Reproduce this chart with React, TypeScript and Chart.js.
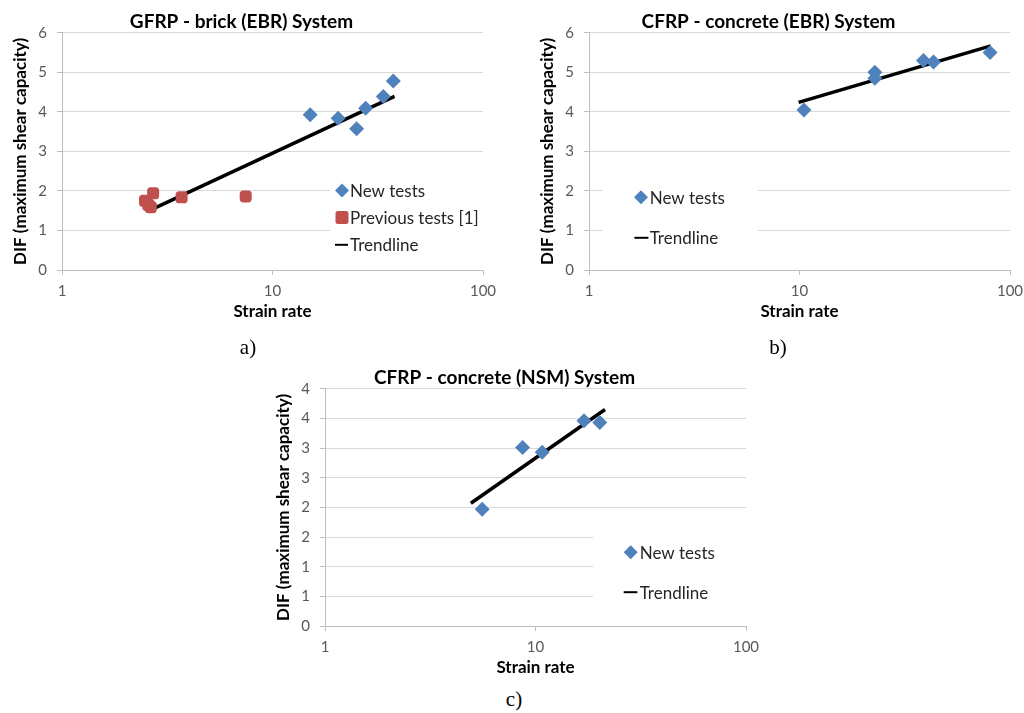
import React, { useEffect, useRef } from "react";
import { Chart, registerables } from "chart.js";

Chart.register(...registerables);

// ---------- data ----------
const xTickValues = [1, 10, 100];

const aNewX = [15.1, 20.5, 25.1, 27.7, 33.6, 37.5];
const aNewY = [3.93, 3.84, 3.57, 4.09, 4.39, 4.78];
const aPrevX = [2.48, 2.57, 2.64, 2.71, 3.7, 7.46];
const aPrevY = [1.75, 1.65, 1.59, 1.94, 1.84, 1.86];
const aTrendX = [2.64, 38];
const aTrendY = [1.52, 4.39];

const bNewX = [10.5, 22.8, 22.8, 38.8, 43.3, 80.4];
const bNewY = [4.05, 5.0, 4.85, 5.3, 5.26, 5.5];
const bTrendX = [9.9, 81];
const bTrendY = [4.24, 5.67];

const cNewX = [5.58, 8.68, 10.76, 17.0, 20.2];
const cNewY = [1.97, 3.01, 2.93, 3.46, 3.43];
const cTrendX = [4.93, 21.4];
const cTrendY = [2.07, 3.65];

const titles = [
  "GFRP - brick (EBR) System",
  "CFRP - concrete (EBR) System",
  "CFRP - concrete (NSM) System",
];
const seriesLabels = ["New tests", "Previous tests [1]", "Trendline"];
const xTitle = "Strain rate";
const yTitle = "DIF (maximum shear capacity)";
const captions = ["a)", "b)", "c)"];

const BLUE = "#4F81BD";
const RED = "#C0504D";
const FONT = "Lato, 'Open Sans', sans-serif";

const zip = (xs: number[], ys: number[]) => xs.map((x, i) => ({ x, y: ys[i] }));

const legendPlugin = {
  id: "insideLegend",
  afterDatasetsDraw(chart: any, _args: any, opts: any) {
    if (!opts || !opts.rows) return;
    const { ctx, chartArea } = chart;
    const L = chartArea.left;
    const T = chartArea.top;
    ctx.save();
    ctx.fillStyle = "#ffffff";
    ctx.fillRect(L + opts.box[0], T + opts.box[1], opts.box[2] - opts.box[0], opts.box[3] - opts.box[1]);
    ctx.font = "17px " + FONT;
    ctx.textBaseline = "middle";
    ctx.textAlign = "left";
    chart.data.datasets.forEach((ds: any, i: number) => {
      const y = T + opts.rows[i];
      if (ds.showLine) {
        ctx.strokeStyle = "#000";
        ctx.lineWidth = 2;
        ctx.beginPath();
        ctx.moveTo(L + opts.dash[0], y);
        ctx.lineTo(L + opts.dash[1], y);
        ctx.stroke();
      } else {
        ctx.fillStyle = ds.backgroundColor;
        const mx = L + opts.markerX;
        if (ds.pointStyle === "rectRot") {
          ctx.beginPath();
          ctx.moveTo(mx, y - 7);
          ctx.lineTo(mx + 7, y);
          ctx.lineTo(mx, y + 7);
          ctx.lineTo(mx - 7, y);
          ctx.closePath();
          ctx.fill();
        } else {
          ctx.beginPath();
          (ctx as any).roundRect ? ctx.roundRect(mx - 6.5, y - 6.5, 13, 13, 2.5) : ctx.rect(mx - 6.5, y - 6.5, 13, 13);
          ctx.fill();
        }
      }
      ctx.fillStyle = "#262626";
      ctx.fillText(ds.label, L + opts.textX, y + 1);
    });
    ctx.restore();
  },
};

function makeConfig(p: any) {
  const datasets: any[] = p.scatter.map((s: any) => ({
    type: "scatter",
    label: s.label,
    data: s.data,
    pointStyle: s.style,
    pointRadius: s.radius,
    backgroundColor: s.color,
    borderColor: s.color,
    borderWidth: 0,
    showLine: false,
  }));
  datasets.push({
    type: "line",
    label: seriesLabels[2],
    data: p.trend,
    showLine: true,
    borderColor: "#000",
    borderWidth: 3.5,
    pointRadius: 0,
    fill: false,
  });
  return {
    type: "scatter",
    data: { datasets },
    plugins: [legendPlugin],
    options: {
      animation: false,
      responsive: false,
      devicePixelRatio: 1,
      layout: { padding: { left: 0, right: p.padRight, top: 0, bottom: 0 } },
      plugins: {
        legend: { display: false },
        tooltip: { enabled: false },
        title: {
          display: true,
          text: p.title,
          color: "#000",
          font: { family: FONT, size: 19, weight: "bold" },
          padding: { top: 10, bottom: 0 },
        },
        insideLegend: p.legend,
      },
      scales: {
        x: {
          type: "logarithmic",
          min: 1,
          max: 100,
          afterBuildTicks: (scale: any) => {
            scale.ticks = xTickValues.map((v) => ({ value: v }));
          },
          afterFit: (scale: any) => {
            scale.height = 60;
            scale.paddingLeft = 0;
            scale.paddingRight = 0;
          },
          ticks: {
            color: "#595959",
            font: { family: FONT, size: 15 },
            padding: 7,
            maxRotation: 0,
            autoSkip: false,
            callback: (v: any) => String(v),
          },
          grid: { drawOnChartArea: false, color: "#bfbfbf", tickLength: 5 },
          border: { color: "#bfbfbf" },
          title: {
            display: true,
            text: xTitle,
            color: "#000",
            font: { family: FONT, size: 17, weight: "bold" },
            padding: { top: 0, bottom: 8 },
          },
        },
        y: {
          min: 0,
          max: p.yMax,
          afterFit: (scale: any) => {
            scale.width = 62;
          },
          ticks: {
            stepSize: p.yStep,
            color: "#595959",
            font: { family: FONT, size: 15 },
            padding: 10,
            callback: (v: any) => String(Math.round(v)),
          },
          grid: { color: "#d9d9d9", tickColor: "#bfbfbf", tickLength: 5 },
          border: { color: "#bfbfbf" },
          title: {
            display: true,
            text: yTitle,
            color: "#000",
            font: { family: FONT, size: 17, weight: "bold" },
            padding: { top: 10, bottom: 0 },
          },
        },
      },
    },
  };
}

function Panel(props: { left: number; top: number; width: number; height: number; cfg: any }) {
  const ref = useRef<HTMLCanvasElement>(null);
  useEffect(() => {
    const chart = new Chart(ref.current as HTMLCanvasElement, makeConfig(props.cfg) as any);
    return () => chart.destroy();
  }, []);
  return (
    <canvas
      ref={ref}
      width={props.width}
      height={props.height}
      style={{ position: "absolute", left: props.left, top: props.top, width: props.width, height: props.height }}
    />
  );
}

const panelA = {
  title: titles[0],
  yMax: 6,
  yStep: 1,
  padRight: 17,
  scatter: [
    { label: seriesLabels[0], data: zip(aNewX, aNewY), style: "rectRot", radius: 7.5, color: BLUE },
    { label: seriesLabels[1], data: zip(aPrevX, aPrevY), style: "rectRounded", radius: 7, color: RED },
  ],
  trend: zip(aTrendX, aTrendY),
  legend: { box: [268, 142, 421, 227], rows: [157.7, 184.7, 212], markerX: 280, textX: 288, dash: [273, 286] },
};

const panelB = {
  title: titles[1],
  yMax: 6,
  yStep: 1,
  padRight: 14,
  scatter: [{ label: seriesLabels[0], data: zip(bNewX, bNewY), style: "rectRot", radius: 7.5, color: BLUE }],
  trend: zip(bTrendX, bTrendY),
  legend: { box: [13.7, 137, 168.7, 227], rows: [164.4, 205], markerX: 52, textX: 60.7, dash: [45.4, 59.4] },
};

const panelC = {
  title: titles[2],
  yMax: 4,
  yStep: 0.5,
  padRight: 16,
  scatter: [{ label: seriesLabels[0], data: zip(cNewX, cNewY), style: "rectRot", radius: 7.5, color: BLUE }],
  trend: zip(cTrendX, cTrendY),
  legend: { box: [268, 131, 421, 226], rows: [163.4, 203.4], markerX: 305.7, textX: 314.7, dash: [298.7, 312.4] },
};

const captionStyle: React.CSSProperties = {
  position: "absolute",
  width: 60,
  textAlign: "center",
  fontFamily: "'Liberation Serif', 'Times New Roman', serif",
  fontSize: 21,
  lineHeight: "24px",
  color: "#000",
};

export default function App() {
  return (
    <div style={{ position: "absolute", left: 0, top: 0, width: 1024, height: 713, overflow: "hidden", background: "#fff" }}>
      <Panel left={0} top={0} width={500} height={330} cfg={panelA} />
      <Panel left={527} top={0} width={497} height={330} cfg={panelB} />
      <Panel left={263} top={356} width={499} height={330} cfg={panelC} />
      <div style={{ ...captionStyle, left: 218, top: 335 }}>{captions[0]}</div>
      <div style={{ ...captionStyle, left: 748, top: 335 }}>{captions[1]}</div>
      <div style={{ ...captionStyle, left: 484, top: 687 }}>{captions[2]}</div>
    </div>
  );
}
